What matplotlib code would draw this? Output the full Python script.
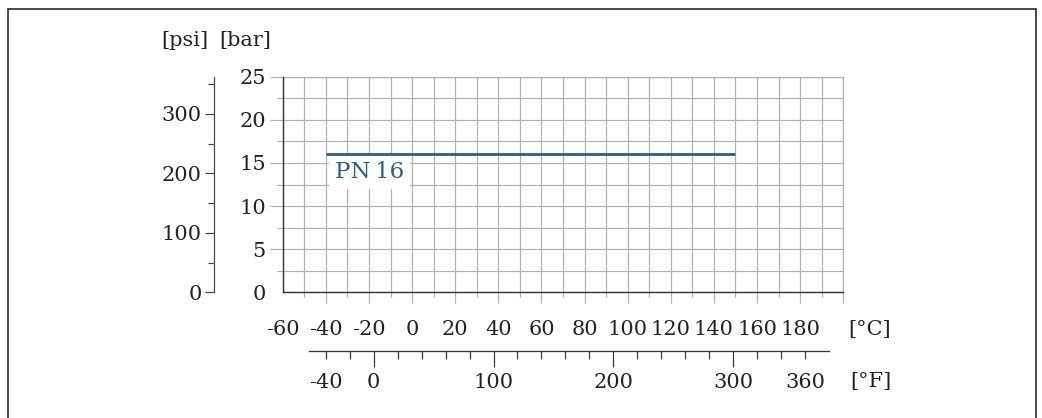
import matplotlib
matplotlib.use("Agg")
import matplotlib.pyplot as plt
from matplotlib.patches import Rectangle

# ---- data ----
temp_c = [-40, 150]
pressure_bar = [16, 16]
series_label = "PN\u200916"

c_major_ticks = [-60, -40, -20, 0, 20, 40, 60, 80, 100, 120, 140, 160, 180, 200]
c_tick_labels = ["-60", "-40", "-20", "0", "20", "40", "60", "80", "100", "120", "140", "160", "180", ""]
c_minor_ticks = [-50, -30, -10, 10, 30, 50, 70, 90, 110, 130, 150, 170, 190]

bar_major_ticks = [0, 5, 10, 15, 20, 25]
bar_tick_labels = ["0", "5", "10", "15", "20", "25"]
bar_minor_ticks = [2.5, 7.5, 12.5, 17.5, 22.5]

psi_major_ticks = [0, 100, 200, 300]
psi_tick_labels = ["0", "100", "200", "300"]
psi_minor_ticks = [50, 150, 250, 350]

f_major_ticks = [0, 100, 200, 300]
f_major_labels = ["0", "100", "200", "300"]
f_minor_ticks = [-40, -20, 20, 40, 60, 80, 120, 140, 160, 180, 220, 240, 260, 280, 320, 340, 360]
f_minor_labels = ["-40", "", "", "", "", "", "", "", "", "", "", "", "", "", "", "", "360"]

BAR_TO_PSI = 14.5038

def c_to_f(c):
    return c * 9 / 5 + 32

W, H = 1042, 418
DPI = 100
FS = 15
TXT = "#222222"
GRID = "#b0b0b0"
BLUE = "#2f5f7e"
FONT = "DejaVu Serif"
plt.rcParams["font.family"] = FONT

fig = plt.figure(figsize=(W / DPI, H / DPI), dpi=DPI)
px = lambda v: v * 72 / DPI  # pixels -> points

x0, x1 = 282.7, 843.3
y_top, y_bot = 76.7, 292.3
pos = [x0 / W, (H - y_bot) / H, (x1 - x0) / W, (y_bot - y_top) / H]

ax = fig.add_axes(pos)
ax.set_xlim(-60, 200)
ax.set_ylim(0, 25)
ax.set_xticks(c_major_ticks, labels=c_tick_labels)
ax.set_xticks(c_minor_ticks, minor=True)
ax.set_yticks(bar_major_ticks, labels=bar_tick_labels)
ax.set_yticks(bar_minor_ticks, minor=True)
ax.grid(which="both", color=GRID, linewidth=px(1.2), zorder=0)
ax.set_axisbelow(True)
ax.tick_params(axis="x", which="major", direction="out", length=px(11), width=px(1.2),
               color=GRID, pad=px(16.5), labelsize=FS, labelcolor=TXT)
ax.tick_params(axis="x", which="minor", direction="out", length=px(4.5), width=px(1.2), color=GRID)
ax.tick_params(axis="y", which="major", direction="out", length=px(12.7), width=px(1.2),
               color=GRID, pad=px(4), labelsize=FS, labelcolor=TXT)
ax.tick_params(axis="y", which="minor", direction="out", length=px(6), width=px(1.2), color=GRID)
ax.xaxis.get_major_ticks()[0].tick1line.set_visible(False)
ax.yaxis.get_major_ticks()[0].tick1line.set_visible(False)
for s in ["top", "right"]:
    ax.spines[s].set_color(GRID)
    ax.spines[s].set_linewidth(px(1.2))
for s in ["left", "bottom"]:
    ax.spines[s].set_color("#333333")
    ax.spines[s].set_linewidth(px(1.4))
    ax.spines[s].set_zorder(3)

ax.plot(temp_c, pressure_bar, color=BLUE, linewidth=px(2.8), solid_capstyle="butt", zorder=4)
ax.text(temp_c[0] + 4.3, pressure_bar[0] - 2.05, series_label, color=BLUE, fontsize=16.5,
        ha="left", va="center", zorder=3,
        bbox=dict(boxstyle="square,pad=0.25", facecolor="white", edgecolor="none"))

# psi axis
axp = fig.add_axes([214 / W, pos[1], 0.0005, pos[3]])
axp.set_ylim(0, 25 * BAR_TO_PSI)
axp.set_xticks([])
axp.set_yticks(psi_major_ticks, labels=psi_tick_labels)
axp.set_yticks(psi_minor_ticks, minor=True)
axp.patch.set_visible(False)
for s in ["top", "right", "bottom"]:
    axp.spines[s].set_visible(False)
axp.spines["left"].set_color("#444444")
axp.spines["left"].set_linewidth(px(1.2))
axp.tick_params(axis="y", which="major", length=px(9), width=px(1.2), color="#444444",
                pad=px(3.3), labelsize=FS, labelcolor=TXT)
axp.tick_params(axis="y", which="minor", length=px(5.7), width=px(1.2), color="#444444")

# Fahrenheit axis
y_f = 351
axf = fig.add_axes([pos[0], (H - y_f) / H, pos[2], 0.0005])
axf.set_xlim(c_to_f(-60), c_to_f(200))
axf.set_yticks([])
axf.patch.set_visible(False)
for s in ["top", "right", "left"]:
    axf.spines[s].set_visible(False)
axf.spines["bottom"].set_color("#333333")
axf.spines["bottom"].set_linewidth(px(1.3))
axf.spines["bottom"].set_bounds(-54, 380)
axf.set_xticks(f_major_ticks, labels=f_major_labels)
axf.set_xticks(f_minor_ticks, labels=f_minor_labels, minor=True)
axf.tick_params(axis="x", which="major", length=px(16), width=px(1.2), color="#333333",
                pad=px(6.3), labelsize=FS, labelcolor=TXT)
axf.tick_params(axis="x", which="minor", length=px(8), width=px(1.2), color="#333333",
                pad=px(14.3), labelsize=FS, labelcolor=TXT)

# unit labels
fig.text(161.7 / W, 1 - 40.7 / H, "[psi]", fontsize=FS, color=TXT, ha="left", va="center")
fig.text(219.3 / W, 1 - 40.7 / H, "[bar]", fontsize=FS, color=TXT, ha="left", va="center")
fig.text(848 / W, 1 - 329.3 / H, "[°C]", fontsize=FS, color=TXT, ha="left", va="center")
fig.text(850 / W, 1 - 381.7 / H, "[°F]", fontsize=FS, color=TXT, ha="left", va="center")

# outer frame
fig.patches.append(Rectangle((8.3 / W, -0.1), (1036 - 8.3) / W, 1.1 - 8.7 / H,
                             transform=fig.transFigure, fill=False,
                             edgecolor="#222222", linewidth=px(1.6)))

fig.savefig("out.png", dpi=DPI)
